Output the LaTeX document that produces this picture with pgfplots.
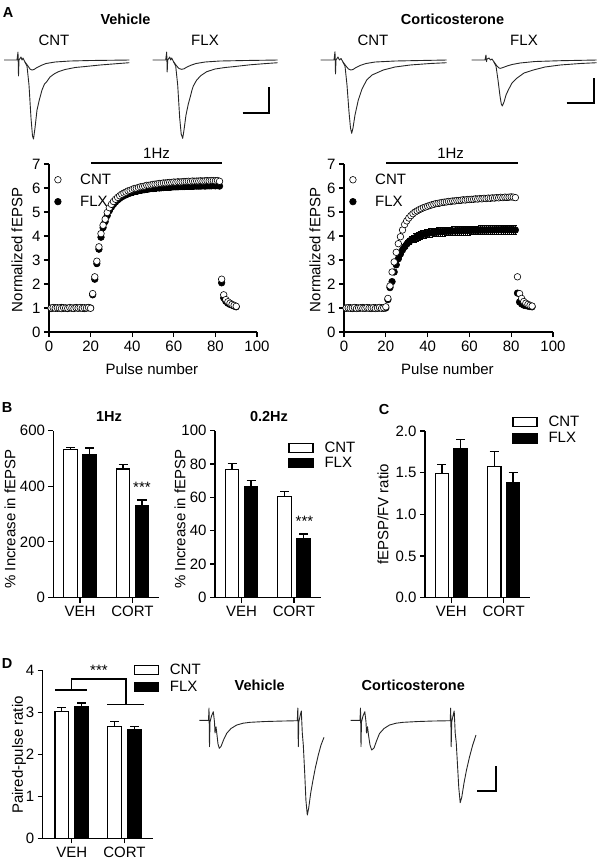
\documentclass[border=0pt]{standalone}
\usepackage{fontspec}
\setmainfont{Liberation Sans}
\usepackage{pgfplots}
\usepackage{pgfplotstable}
\pgfplotsset{compat=1.18}

\newcommand{\tl}{\fontsize{15}{17}\selectfont}
\newcommand{\tb}{\fontsize{14.5}{17}\selectfont\bfseries}

% normalized fEPSP per pulse: x, CNT mean, CNT sem, FLX mean, FLX sem
\pgfplotstableread{
x c ce f fe
1 1.00 0.03 0.98 0.03
2 1.02 0.03 1.00 0.03
3 0.99 0.03 1.01 0.03
4 1.01 0.03 0.99 0.03
5 1.00 0.03 1.00 0.03
6 0.98 0.03 1.02 0.03
7 1.01 0.03 0.99 0.03
8 1.00 0.03 1.00 0.03
9 0.99 0.03 0.98 0.03
10 1.02 0.03 1.01 0.03
11 1.00 0.03 0.99 0.03
12 0.98 0.03 1.00 0.03
13 1.01 0.03 1.02 0.03
14 1.00 0.03 0.99 0.03
15 1.02 0.03 1.00 0.03
16 0.99 0.03 1.01 0.03
17 1.01 0.03 0.98 0.03
18 1.00 0.03 1.00 0.03
19 1.02 0.03 1.01 0.03
20 0.99 0.03 1.00 0.03
21 1.60 0.06 1.55 0.06
22 2.30 0.08 2.20 0.08
23 2.95 0.09 2.85 0.09
24 3.55 0.10 3.45 0.10
25 4.10 0.10 3.95 0.10
26 4.45 0.10 4.35 0.10
27 4.70 0.10 4.60 0.10
28 4.98 0.10 4.85 0.11
29 5.18 0.10 5.05 0.11
30 5.32 0.10 5.20 0.11
31 5.44 0.10 5.32 0.11
32 5.53 0.10 5.42 0.11
33 5.61 0.10 5.50 0.11
34 5.68 0.09 5.57 0.11
35 5.74 0.09 5.63 0.11
36 5.79 0.09 5.68 0.11
37 5.83 0.09 5.72 0.11
38 5.88 0.09 5.76 0.11
39 5.90 0.09 5.79 0.11
40 5.94 0.09 5.82 0.11
41 5.98 0.09 5.85 0.11
42 5.99 0.09 5.86 0.11
43 6.02 0.09 5.89 0.11
44 6.05 0.09 5.91 0.11
45 6.06 0.09 5.92 0.11
46 6.08 0.09 5.93 0.11
47 6.11 0.09 5.95 0.11
48 6.11 0.09 5.96 0.11
49 6.13 0.09 5.98 0.11
50 6.15 0.09 5.98 0.11
51 6.16 0.08 5.99 0.11
52 6.17 0.08 6.01 0.11
53 6.19 0.08 6.00 0.11
54 6.19 0.08 6.01 0.11
55 6.21 0.08 6.02 0.11
56 6.21 0.08 6.03 0.11
57 6.22 0.08 6.03 0.11
58 6.23 0.08 6.03 0.11
59 6.23 0.08 6.04 0.11
60 6.25 0.08 6.05 0.11
61 6.24 0.08 6.05 0.11
62 6.26 0.08 6.05 0.11
63 6.25 0.08 6.06 0.11
64 6.26 0.08 6.06 0.11
65 6.27 0.08 6.06 0.11
66 6.27 0.08 6.07 0.11
67 6.28 0.08 6.07 0.11
68 6.27 0.08 6.07 0.11
69 6.29 0.08 6.07 0.11
70 6.28 0.08 6.08 0.11
71 6.29 0.08 6.08 0.11
72 6.29 0.08 6.08 0.11
73 6.30 0.08 6.08 0.11
74 6.29 0.08 6.09 0.11
75 6.30 0.08 6.08 0.11
76 6.31 0.08 6.09 0.11
77 6.30 0.08 6.09 0.11
78 6.31 0.08 6.09 0.11
79 6.31 0.08 6.10 0.11
80 6.30 0.08 6.09 0.11
81 6.31 0.08 6.10 0.11
82 6.28 0.08 6.08 0.11
83 2.20 0.08 2.05 0.08
84 1.55 0.06 1.42 0.06
85 1.35 0.05 1.28 0.05
86 1.26 0.04 1.20 0.04
87 1.20 0.04 1.15 0.04
88 1.15 0.04 1.12 0.04
89 1.11 0.03 1.08 0.03
90 1.07 0.03 1.05 0.03
}\vehtab

\pgfplotstableread{
x c ce f fe
1 1.00 0.03 0.99 0.03
2 1.01 0.03 1.00 0.03
3 0.99 0.03 1.01 0.03
4 1.00 0.03 0.98 0.03
5 1.02 0.03 1.00 0.03
6 0.98 0.03 1.01 0.03
7 1.00 0.03 0.99 0.03
8 1.01 0.03 1.00 0.03
9 0.99 0.03 1.02 0.03
10 1.00 0.03 0.99 0.03
11 1.02 0.03 1.00 0.03
12 0.99 0.03 1.01 0.03
13 1.00 0.03 0.98 0.03
14 1.01 0.03 1.00 0.03
15 0.98 0.03 1.01 0.03
16 1.00 0.03 0.99 0.03
17 1.02 0.03 1.00 0.03
18 0.99 0.03 1.01 0.03
19 1.01 0.03 0.99 0.03
20 1.05 0.03 1.00 0.03
21 1.40 0.05 1.35 0.05
22 1.92 0.07 1.85 0.07
23 2.50 0.08 2.10 0.08
24 2.92 0.09 2.50 0.09
25 3.32 0.10 2.80 0.10
26 3.68 0.10 3.05 0.11
27 3.97 0.10 3.25 0.12
28 4.25 0.10 3.42 0.13
29 4.48 0.10 3.55 0.14
30 4.63 0.10 3.66 0.15
31 4.75 0.10 3.75 0.15
32 4.85 0.10 3.82 0.16
33 4.93 0.10 3.88 0.16
34 5.00 0.10 3.93 0.17
35 5.05 0.10 3.97 0.17
36 5.10 0.10 4.01 0.17
37 5.14 0.10 4.04 0.18
38 5.18 0.10 4.07 0.18
39 5.21 0.10 4.09 0.18
40 5.24 0.10 4.11 0.18
41 5.27 0.10 4.13 0.18
42 5.30 0.10 4.14 0.18
43 5.32 0.10 4.15 0.18
44 5.35 0.10 4.16 0.18
45 5.36 0.10 4.17 0.18
46 5.38 0.10 4.18 0.18
47 5.40 0.10 4.18 0.18
48 5.41 0.10 4.19 0.18
49 5.42 0.10 4.20 0.18
50 5.44 0.10 4.20 0.18
51 5.44 0.10 4.20 0.18
52 5.46 0.10 4.21 0.18
53 5.46 0.10 4.21 0.18
54 5.48 0.10 4.22 0.18
55 5.48 0.10 4.22 0.18
56 5.49 0.10 4.22 0.18
57 5.51 0.10 4.23 0.18
58 5.50 0.10 4.23 0.18
59 5.52 0.10 4.23 0.18
60 5.52 0.10 4.23 0.18
61 5.53 0.10 4.24 0.18
62 5.53 0.10 4.24 0.18
63 5.55 0.10 4.24 0.18
64 5.54 0.10 4.24 0.18
65 5.56 0.10 4.25 0.18
66 5.55 0.10 4.25 0.18
67 5.57 0.10 4.25 0.18
68 5.56 0.10 4.25 0.18
69 5.58 0.10 4.25 0.18
70 5.57 0.10 4.26 0.18
71 5.59 0.10 4.25 0.18
72 5.58 0.10 4.26 0.18
73 5.60 0.10 4.26 0.18
74 5.59 0.10 4.26 0.18
75 5.61 0.10 4.26 0.18
76 5.60 0.10 4.27 0.18
77 5.62 0.10 4.26 0.18
78 5.61 0.10 4.27 0.18
79 5.62 0.10 4.26 0.18
80 5.63 0.10 4.27 0.18
81 5.62 0.10 4.26 0.18
82 5.60 0.10 4.25 0.18
83 2.30 0.12 1.62 0.06
84 1.60 0.06 1.25 0.05
85 1.40 0.05 1.17 0.04
86 1.27 0.04 1.12 0.04
87 1.20 0.04 1.10 0.04
88 1.15 0.04 1.08 0.03
89 1.11 0.03 1.06 0.03
90 1.08 0.03 1.05 0.03
}\cortab

\pgfplotsset{
  gp/.style={
    scale only axis,
    axis lines=left,
    axis line style={-, line width=1.3pt},
    tick align=outside,
    major tick length=5pt,
    tick style={line width=1.3pt, black},
    tick label style={font=\tl},
    /pgf/number format/assume math mode=true,
    clip=false,
    legend cell align=left,
  },
  ylab/.style={every axis y label/.style={at={(axis description cs:#1)}, anchor=center, rotate=90, font=\tl}},
  xlab/.style={every axis x label/.style={at={(axis description cs:#1)}, anchor=center, font=\tl}},
  cntpt/.style={only marks, mark=*, mark size=3.3pt, mark options={fill=white, draw=black, line width=0.6pt}},
  flxpt/.style={only marks, mark=*, mark size=3.3pt, mark options={fill=black, draw=black, line width=0.6pt}},
  sem/.style={/pgfplots/error bars/y dir=both, /pgfplots/error bars/y explicit,
    /pgfplots/error bars/error bar style={line width=0.5pt, black},
    /pgfplots/error bars/error mark options={rotate=90, mark size=1.6pt, line width=0.5pt, black}},
  ptlegend/.style={
    legend image code/.code={\draw[##1] plot coordinates {(0pt,0pt)};},
    legend style={draw=none, fill=none, inner sep=0pt, font=\tl, at={(axis description cs:#1)}, anchor=north west, row sep=7pt, nodes={inner ysep=1.5pt, inner xsep=19pt}}},
  barlegend/.style 2 args={
    legend image code/.code={\draw[##1, line width=1.3pt] (0pt,-4.5pt) rectangle (24pt,4.5pt);},
    legend style={draw=none, fill=none, inner sep=0pt, font=\tl, at={(axis description cs:#1)}, anchor=north west, row sep=#2, nodes={inner ysep=1.5pt, inner xsep=11pt}}},
  barax/.style={gp, xmin=0, xmax=105.5, xtick={26.5,79}, xticklabels={VEH,CORT}},
  barerr/.style={/pgfplots/error bars/y dir=plus, /pgfplots/error bars/y explicit,
    /pgfplots/error bars/error bar style={line width=1.3pt, black},
    /pgfplots/error bars/error mark options={rotate=90, mark size=4.5pt, line width=1.3pt, black}},
  cntbar/.style={ybar, bar width=13.5, bar shift=0pt, fill=white, draw=black, line width=1.3pt, barerr},
  flxbar/.style={ybar, bar width=13.5, bar shift=0pt, fill=black, draw=black, line width=1.3pt, barerr},
  trace/.style={black!85, line width=0.9pt, line join=round, mark=none, forget plot},
  scalebar/.style={black, line width=2pt, mark=none, forget plot},
}

\begin{document}
\begin{tikzpicture}
\useasboundingbox (0pt,0pt) rectangle (606pt,-860pt);

% ---------- example sweeps, scale bars and panel headings (page units, y down) ----------
\begin{axis}[at={(0pt,0pt)}, anchor=north west, scale only axis, width=606pt, height=860pt,
  xmin=0, xmax=606, ymin=0, ymax=860, y dir=reverse, hide axis, clip=false]
% Vehicle, CNT
\addplot[trace] coordinates {(4,60) (17,60) (18,52) (18.5,76) (19,60) (21,57) (22,60) (23,58) (25,62) (27,66) (29,85) (31,118) (32.5,136) (33.5,139) (35,128) (37,110) (39.3,100) (42,90) (44.5,84) (46.7,81.7) (50,77) (54,74) (58.3,71.7) (65,69.5) (75,67.5) (83.3,66.7) (100,65) (115,63.8) (129.3,62.7)};
\addplot[trace] coordinates {(25,62) (28,66) (30,69) (32,70) (34,69.5) (37,67.5) (41,65.5) (46,63.5) (55,62) (70,61) (90,60.5) (129.3,60)};
% Vehicle, FLX
\addplot[trace] coordinates {(152.7,60) (165.7,60) (166.7,52) (167.2,72) (167.7,60) (169.7,57) (170.7,60) (171.7,58) (173.7,62) (175.7,66) (177.7,85) (179.7,118) (181.2,134) (182.7,138.3) (184,130) (186,115) (188.3,104) (190.5,96) (192,90) (193.3,86) (196.7,80) (201,75.5) (206.7,71.7) (215,69) (225,67.5) (233,66.7) (250,64.8) (265,63.6) (277.7,62.7)};
\addplot[trace] coordinates {(173.7,62) (176.7,66) (179,68.5) (181.7,69.3) (184,68.8) (187,67) (191,65.2) (196,63.5) (205,62) (220,61) (245,60.5) (277.7,60)};
% Corticosterone, CNT
\addplot[trace] coordinates {(320.7,60) (334,60) (335,51.7) (335.5,74) (336,60) (338,57) (339.5,60) (341,58.5) (343,62) (345,66) (347,85) (349,112) (350.5,128) (351.7,133.3) (353,128) (355,115) (358.3,100) (362,89) (366.7,80) (372,75) (383.3,70) (395,67) (410,65) (430,63.5) (446.7,62.7)};
\addplot[trace] coordinates {(343,62) (346,66) (348.5,69) (350.7,70) (353,69.5) (356,67.5) (360,65.5) (366,63.5) (375,62) (395,61) (420,60.5) (446.7,60)};
% Corticosterone, FLX
\addplot[trace] coordinates {(471.7,60) (485,60) (486,55) (486.5,61.7) (487,59) (489,58) (490.5,60) (492,59) (494,62) (496,66) (498,80) (500,96) (501.3,104) (502.3,106) (504,102) (506,95) (508.3,90) (512,83) (516.7,78.3) (524,73) (533.3,70) (545,67) (560,65) (580,63.5) (596.7,62.7)};
\addplot[trace] coordinates {(494,62) (497,66) (499,68) (500.5,68.3) (503,67.5) (507,66) (512,64.5) (520,63) (535,61.5) (560,60.7) (596.7,60)};
% scale bars
\addplot[scalebar] coordinates {(242.7,113.3) (269.3,113.3) (269.3,87.3)};
\addplot[scalebar] coordinates {(566.7,102.7) (594,102.7) (594,78.3)};
% paired-pulse sweeps
\addplot[trace] coordinates {(199.3,720.3) (208.5,720.3) (209,708) (209.5,746.7) (210,722) (211.5,716) (213.3,711.7) (214.5,722) (215,733) (216,726.7) (217,735) (218,744) (219.3,748.3) (221,746.5) (223.5,740) (226.7,733.3) (231,728.5) (236.7,725) (243,723.2) (250,722.3) (265,721.5) (283.3,721) (297.3,720.7) (297.8,708) (298.3,746.7) (298.8,722) (300.3,715) (301.3,711) (302.3,733) (303.3,745) (304.8,775) (305.9,800) (307.3,815) (308.7,808) (310.7,793) (313,780) (315.3,768) (318.3,755) (321,745) (324,737.3)};
\addplot[trace] coordinates {(350.7,720.3) (360,720.3) (360.5,708) (361,746.7) (361.5,722) (363,716) (364.8,711.7) (366,722) (366.5,733) (367.5,726.7) (368.5,735) (370,745) (371.7,750) (374,748) (376.5,741) (379.5,733.5) (384,728.5) (389.5,725) (396,723.2) (403,722.3) (418,721.5) (433,721) (450.2,720.7) (450.7,708) (451.2,746.7) (451.7,722) (453.2,715) (454.2,711) (455.2,733) (456.2,742) (457.5,765) (458.8,788) (460.2,802.7) (461.8,797) (464,783) (466.5,770) (469.5,757) (472.7,745) (476,735)};
\addplot[scalebar] coordinates {(477.3,790.7) (496,790.7) (496,766)};
% headings
\node[font=\tb] at (axis cs:8,12) {A};
\node[font=\tb] at (axis cs:125.5,19) {Vehicle};
\node[font=\tb] at (axis cs:452.5,19) {Corticosterone};
\node[font=\tl] at (axis cs:54,40) {CNT};
\node[font=\tl] at (axis cs:205,40) {FLX};
\node[font=\tl] at (axis cs:373,40) {CNT};
\node[font=\tl] at (axis cs:524,40) {FLX};
\node[font=\tb] at (axis cs:7,407) {B};
\node[font=\tb] at (axis cs:384,409) {C};
\node[font=\tb] at (axis cs:7,663) {D};
\node[font=\tb] at (axis cs:259.7,685) {Vehicle};
\node[font=\tb] at (axis cs:413.3,685) {Corticosterone};
\end{axis}

% ---------- A, vehicle ----------
\begin{axis}[gp, at={(49pt,-332pt)}, anchor=south west, width=208pt, height=168pt,
  xmin=0, xmax=100, ymin=0, ymax=7, xtick={0,20,...,100}, ytick={0,1,...,7},
  xlabel={Pulse number}, ylabel={Normalized fEPSP},
  xlab={0.495,-0.22}, ylab={-0.154,0.488}, ptlegend={0.026,0.952}]
\addlegendimage{cntpt}\addlegendentry{CNT}
\addlegendimage{flxpt}\addlegendentry{FLX}
\addplot[forget plot, flxpt, sem] table[x=x, y=f, y error=fe] {\vehtab};
\addplot[forget plot, cntpt, sem] table[x=x, y=c, y error=ce] {\vehtab};
\addplot[forget plot, black, line width=2.6pt, mark=none] coordinates {(20.2,7.04) (83.2,7.04)};
\node[font=\tl] at (axis cs:51.7,7.45) {1Hz};
\end{axis}

% ---------- A, corticosterone ----------
\begin{axis}[gp, at={(344pt,-332pt)}, anchor=south west, width=209pt, height=168pt,
  xmin=0, xmax=100, ymin=0, ymax=7, xtick={0,20,...,100}, ytick={0,1,...,7},
  xlabel={Pulse number}, ylabel={Normalized fEPSP},
  xlab={0.495,-0.22}, ylab={-0.139,0.488}, ptlegend={0.026,0.952}]
\addlegendimage{cntpt}\addlegendentry{CNT}
\addlegendimage{flxpt}\addlegendentry{FLX}
\addplot[forget plot, flxpt, sem] table[x=x, y=f, y error=fe] {\cortab};
\addplot[forget plot, cntpt, sem] table[x=x, y=c, y error=ce] {\cortab};
\addplot[forget plot, black, line width=2.6pt, mark=none] coordinates {(20.1,7.04) (83.2,7.04)};
\node[font=\tl] at (axis cs:51,7.45) {1Hz};
\end{axis}

% ---------- B, 1 Hz ----------
\begin{axis}[barax, at={(53.5pt,-597.5pt)}, anchor=south west, width=105.5pt, height=167pt,
  ymin=0, ymax=600, ytick={0,200,400,600},
  ylabel={\% Increase in fEPSP}, ylab={-0.412,0.47},
  title={1Hz}, title style={at={(axis description cs:0.526,1.045)}, anchor=center, font=\tb}]
\addplot[cntbar] coordinates {(17,533) +- (0,7) (69.5,462) +- (0,15)};
\addplot[flxbar] coordinates {(36,515) +- (0,22) (88.5,329) +- (0,21)};
\node[font=\fontsize{15}{17}\selectfont] at (axis cs:88.5,397) {***};
\end{axis}

% ---------- B, 0.2 Hz ----------
\begin{axis}[barax, at={(215pt,-597.5pt)}, anchor=south west, width=105.5pt, height=167pt,
  ymin=0, ymax=100, ytick={0,20,...,100},
  ylabel={\% Increase in fEPSP}, ylab={-0.332,0.47},
  title={0.2Hz}, title style={at={(axis description cs:0.512,1.045)}, anchor=center, font=\tb},
  barlegend={{0.692,0.94}}{0pt}]
\addlegendimage{fill=white, draw=black}\addlegendentry{CNT}
\addlegendimage{fill=black, draw=black}\addlegendentry{FLX}
\addplot[forget plot, cntbar] coordinates {(17,76.8) +- (0,3.6) (69.5,60.4) +- (0,3)};
\addplot[forget plot, flxbar] coordinates {(36,66.3) +- (0,3.6) (88.5,35.0) +- (0,3)};
\node[font=\fontsize{15}{17}\selectfont] at (axis cs:89.5,45.5) {***};
\end{axis}

% ---------- C ----------
\begin{axis}[barax, at={(425pt,-597.7pt)}, anchor=south west, width=105pt, height=166.7pt,
  ymin=0, ymax=2, ytick={0,0.5,...,2},
  yticklabel style={/pgf/number format/fixed, /pgf/number format/fixed zerofill, /pgf/number format/precision=1},
  ylabel={fEPSP/FV ratio}, ylab={-0.4,0.5},
  barlegend={{0.829,1.10}}{1.5pt}]
\addlegendimage{fill=white, draw=black}\addlegendentry{CNT}
\addlegendimage{fill=black, draw=black}\addlegendentry{FLX}
\addplot[forget plot, cntbar] coordinates {(17,1.49) +- (0,0.11) (69.5,1.57) +- (0,0.18)};
\addplot[forget plot, flxbar] coordinates {(36,1.79) +- (0,0.11) (88.5,1.38) +- (0,0.12)};
\end{axis}

% ---------- D ----------
\begin{axis}[gp, at={(42.7pt,-838.3pt)}, anchor=south west, width=110pt, height=167.7pt,
  xmin=0, xmax=110, xtick={29,81.8}, xticklabels={VEH,CORT},
  ymin=0, ymax=4, ytick={0,1,...,4},
  ylabel={Paired-pulse ratio}, ylab={-0.215,0.497},
  barlegend={{0.824,1.05}}{2.5pt}]
\addlegendimage{fill=white, draw=black}\addlegendentry{CNT}
\addlegendimage{fill=black, draw=black}\addlegendentry{FLX}
\addplot[forget plot, cntbar] coordinates {(19,3.02) +- (0,0.10) (71.8,2.66) +- (0,0.12)};
\addplot[forget plot, flxbar] coordinates {(39,3.14) +- (0,0.09) (91.8,2.60) +- (0,0.06)};
\addplot[forget plot, black, line width=1.3pt, mark=none] coordinates {(12.3,3.54) (44.6,3.54)};
\addplot[forget plot, black, line width=1.3pt, mark=none] coordinates {(29,3.54) (29,3.80) (83.3,3.80) (83.3,3.20)};
\addplot[forget plot, black, line width=1.3pt, mark=none] coordinates {(64.6,3.20) (101.3,3.20)};
\node[font=\fontsize{15}{17}\selectfont] at (axis cs:56.3,4.0) {***};
\end{axis}
\end{tikzpicture}
\end{document}
